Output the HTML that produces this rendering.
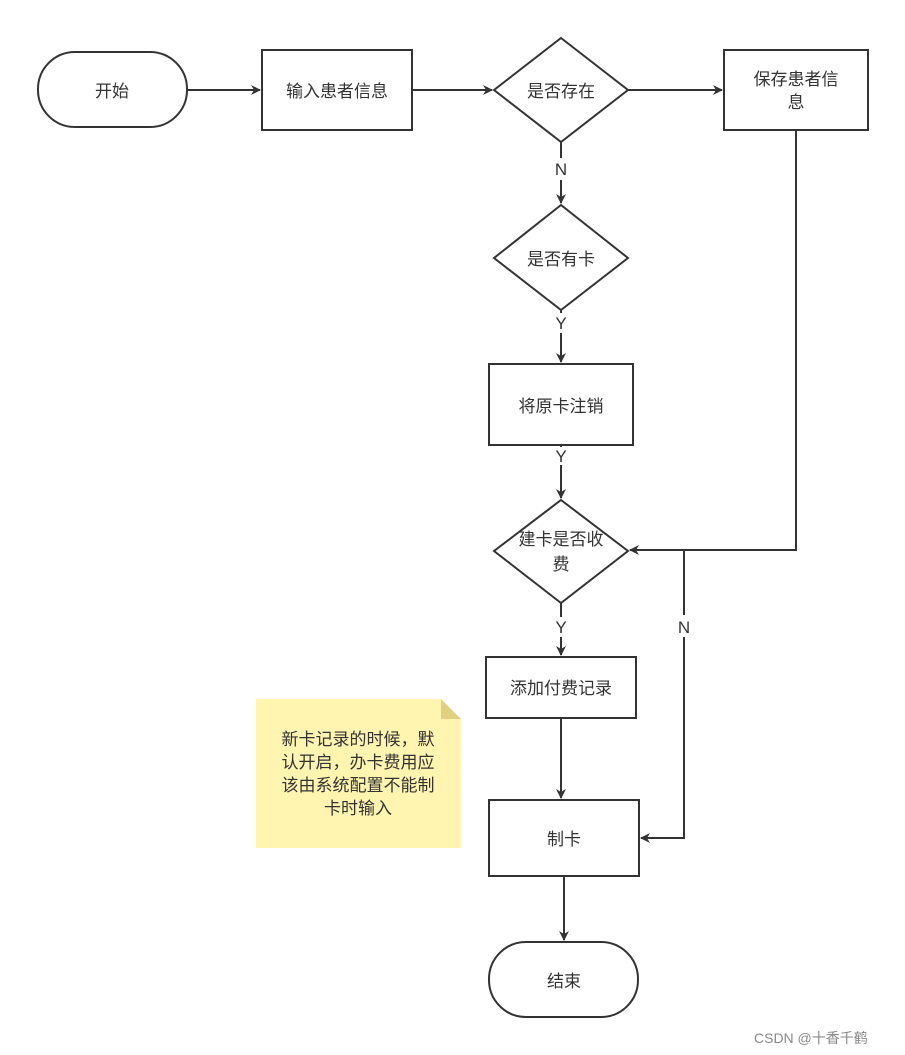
<!DOCTYPE html>
<html><head><meta charset="utf-8"><style>
html,body{margin:0;padding:0;background:#fff;}
svg{display:block;}
text{font-family:"Liberation Sans","Noto Sans CJK SC",sans-serif;font-size:17px;fill:#333;}
</style></head><body>
<svg width="905" height="1055" viewBox="0 0 905 1055" xmlns="http://www.w3.org/2000/svg">
<defs>
<marker id="a" markerWidth="10" markerHeight="10" refX="9" refY="5" orient="auto" markerUnits="userSpaceOnUse">
<path d="M0,0 L10,5 L0,10 L3,5 Z" fill="#333"/>
</marker>
</defs>
<g stroke="#333" stroke-width="2" fill="#fff">
<rect x="38" y="52" width="149" height="75" rx="37" ry="37"/>
<rect x="262" y="50" width="150" height="80"/>
<polygon points="561,38 628,90 561,142 494,90"/>
<rect x="724" y="50" width="144" height="80"/>
<polygon points="561,205 628,258 561,310 494,258"/>
<rect x="489" y="364" width="144" height="81"/>
<polygon points="561,500 628,551 561,603 494,551"/>
<rect x="486" y="657" width="150" height="61"/>
<rect x="489" y="800" width="150" height="76"/>
<rect x="489" y="942" width="149" height="75" rx="37" ry="37"/>
</g>
<g stroke="#333" stroke-width="2" fill="none">
<line x1="187" y1="90" x2="260" y2="90" marker-end="url(#a)"/>
<line x1="412" y1="90" x2="492" y2="90" marker-end="url(#a)"/>
<line x1="628" y1="90" x2="722" y2="90" marker-end="url(#a)"/>
<line x1="561" y1="142" x2="561" y2="158"/>
<line x1="561" y1="180" x2="561" y2="203" marker-end="url(#a)"/>
<line x1="561" y1="310" x2="561" y2="313"/>
<line x1="561" y1="333" x2="561" y2="362" marker-end="url(#a)"/>
<line x1="561" y1="445" x2="561" y2="447"/>
<line x1="561" y1="465" x2="561" y2="498" marker-end="url(#a)"/>
<line x1="561" y1="603" x2="561" y2="617"/>
<line x1="561" y1="637" x2="561" y2="655" marker-end="url(#a)"/>
<line x1="561" y1="718" x2="561" y2="798" marker-end="url(#a)"/>
<line x1="564" y1="876" x2="564" y2="940" marker-end="url(#a)"/>
<polyline points="796,130 796,550 630,550" marker-end="url(#a)"/>
<polyline points="684,550 684,615"/>
<polyline points="684,637 684,838 641,838" marker-end="url(#a)"/>
</g>
<path d="M256,699 L441,699 L461,719 L461,848 L256,848 Z" fill="#fff4b0"/>
<path d="M441,699 L441,719 L461,719 Z" fill="#e0d080"/>
<g text-anchor="middle">
<text x="112" y="97">开始</text>
<text x="337" y="97">输入患者信息</text>
<text x="561" y="97">是否存在</text>
<text x="796" y="85">保存患者信</text>
<text x="796" y="108">息</text>
<text x="561" y="175">N</text>
<text x="561" y="265">是否有卡</text>
<text x="561" y="329">Y</text>
<text x="561" y="412">将原卡注销</text>
<text x="561" y="462">Y</text>
<text x="561" y="545">建卡是否收</text>
<text x="561" y="570">费</text>
<text x="561" y="633">Y</text>
<text x="684" y="633">N</text>
<text x="561" y="694">添加付费记录</text>
<text x="564" y="845">制卡</text>
<text x="564" y="987">结束</text>
<text x="358" y="745">新卡记录的时候，默</text>
<text x="358" y="768">认开启，办卡费用应</text>
<text x="358" y="791">该由系统配置不能制</text>
<text x="358" y="814">卡时输入</text>
</g>
<text x="754" y="1043" style="font-size:14px;fill:#888">CSDN @十香千鹤</text>
</svg>
</body></html>
